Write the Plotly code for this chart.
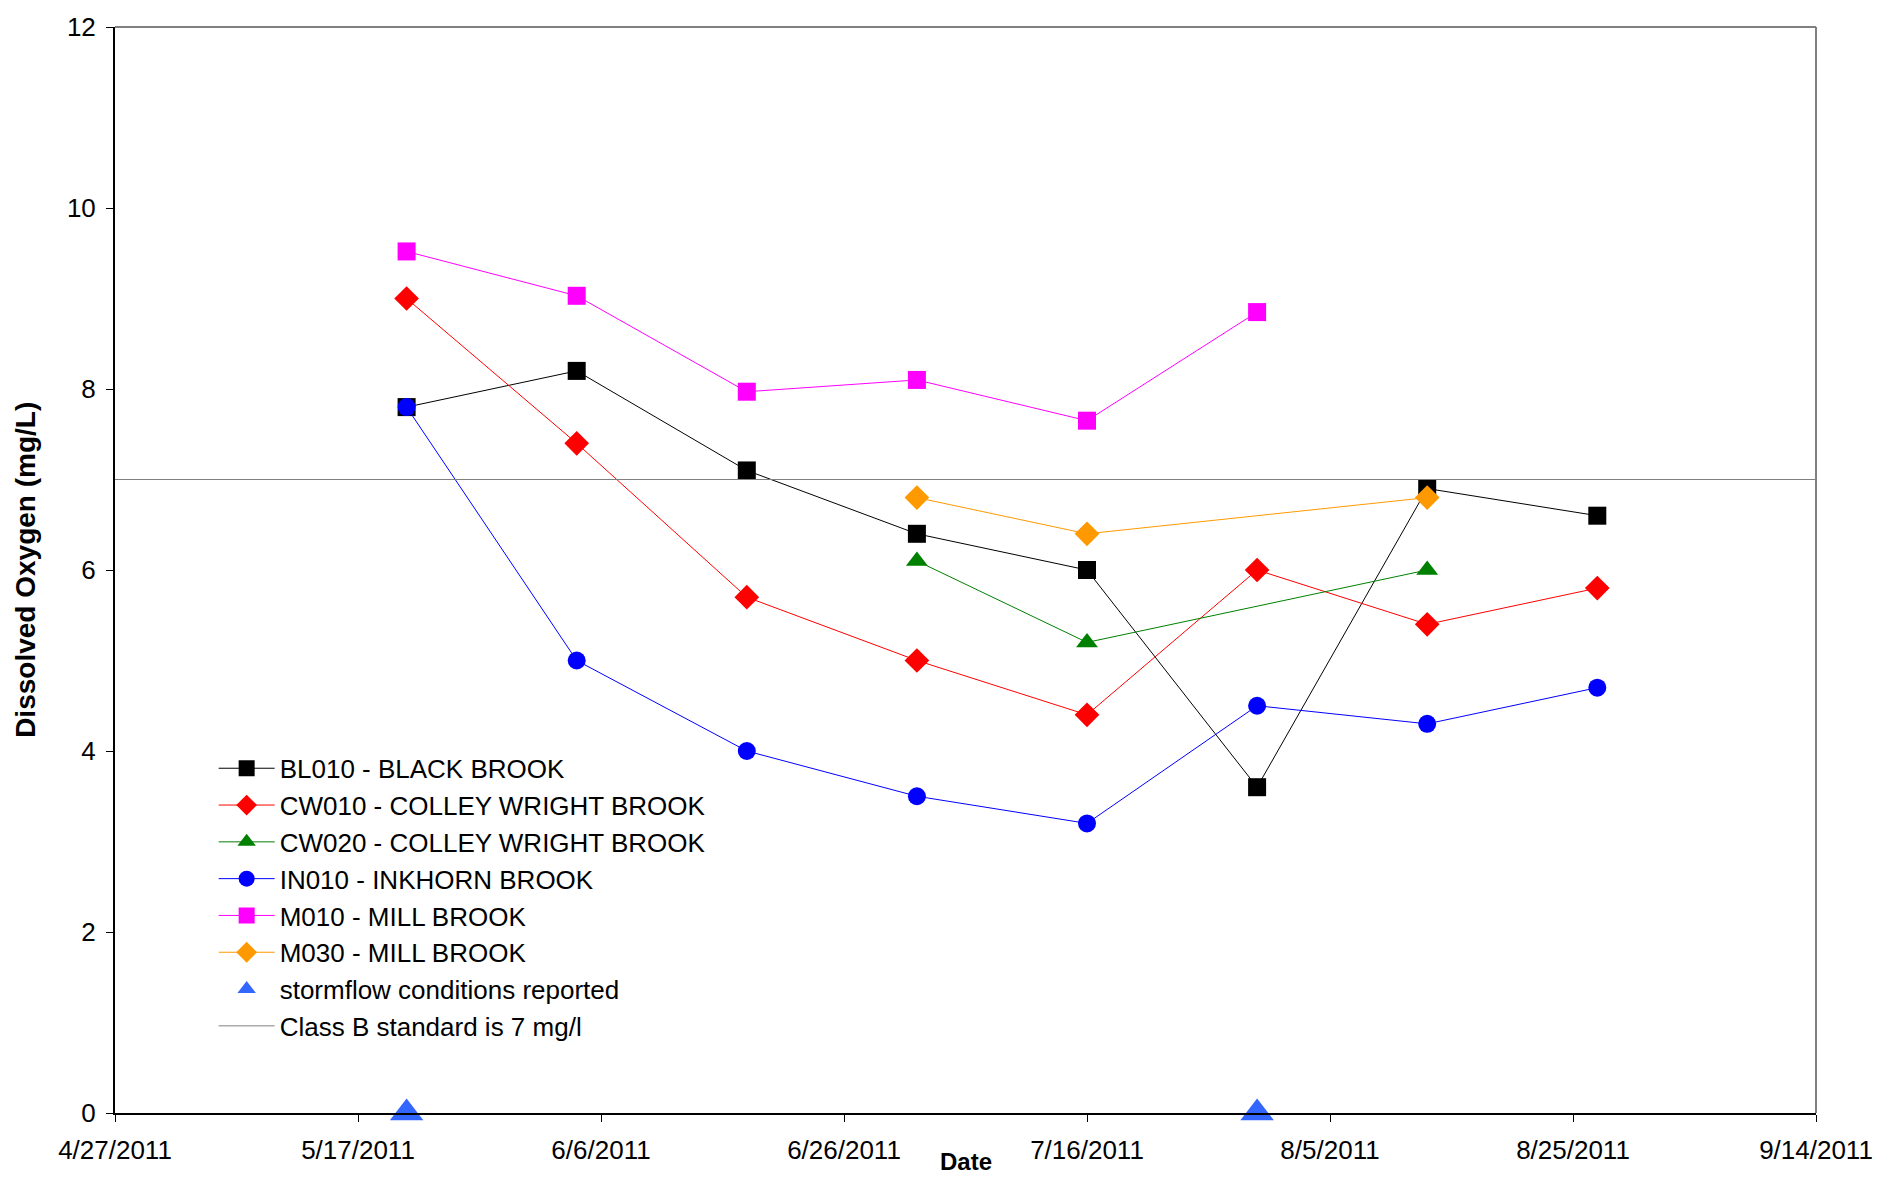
import plotly.graph_objects as go

# Sampling dates (biweekly visits)
dates = ["2011-05-21", "2011-06-04", "2011-06-18", "2011-07-02",
         "2011-07-16", "2011-07-30", "2011-08-13", "2011-08-27"]

# Dissolved oxygen (mg/L) per station; None = not sampled
bl010 = [7.8, 8.2, 7.1, 6.4, 6.0, 3.6, 6.9, 6.6]
cw010 = [9.0, 7.4, 5.7, 5.0, 4.4, 6.0, 5.4, 5.8]
cw020 = [None, None, None, 6.1, 5.2, None, 6.0, None]
in010 = [7.8, 5.0, 4.0, 3.5, 3.2, 4.5, 4.3, 4.7]
m010 = [9.52, 9.03, 7.97, 8.1, 7.65, 8.85, None, None]
m030 = [None, None, None, 6.8, 6.4, None, 6.8, None]

# Days with stormflow conditions
storm_dates = ["2011-05-21", "2011-07-30"]
storm_vals = [0, 0]

# Class B standard
standard_dates = ["2011-04-27", "2011-09-14"]
standard_vals = [7, 7]

y_ticks = [0, 2, 4, 6, 8, 10, 12]

FONT = "Liberation Sans, Arial, sans-serif"

series = [
    ("BL010 - BLACK BROOK", bl010, "#000000", "square", 18),
    ("CW010 - COLLEY WRIGHT BROOK", cw010, "#FF0000", "diamond", 19),
    ("CW020 - COLLEY WRIGHT BROOK", cw020, "#008000", "triangle-up", 19),
    ("IN010 - INKHORN BROOK", in010, "#0000FF", "circle", 18),
    ("M010 - MILL BROOK", m010, "#FF00FF", "square", 18),
    ("M030 - MILL BROOK", m030, "#FF9900", "diamond", 19),
]

fig = go.Figure()

for name, vals, color, sym, size in series:
    fig.add_trace(go.Scatter(
        x=dates, y=vals, name=name, mode="lines+markers",
        connectgaps=True,
        line=dict(color=color, width=1),
        marker=dict(symbol=sym, size=size, color=color),
    ))

fig.add_trace(go.Scatter(
    x=storm_dates, y=storm_vals, name="stormflow conditions reported",
    mode="markers", cliponaxis=False,
    marker=dict(symbol="triangle-up", size=29, color="#3366FF"),
))

fig.add_trace(go.Scatter(
    x=standard_dates, y=standard_vals, name="Class B standard is 7 mg/l",
    mode="lines", line=dict(color="#808080", width=1),
))

# Gray frame on top and right
fig.add_shape(type="line", xref="paper", yref="paper", x0=0, x1=1, y0=1, y1=1,
              line=dict(color="#808080", width=2))
fig.add_shape(type="line", xref="paper", yref="paper", x0=1, x1=1, y0=0, y1=1,
              line=dict(color="#808080", width=2))

fig.add_annotation(text="<b>Date</b>", xref="paper", yref="paper",
                   x=0.5, y=-0.045, yanchor="middle", showarrow=False,
                   font=dict(family=FONT, size=24, color="#000000"))
fig.add_annotation(text="<b>Dissolved Oxygen (mg/L)</b>", xref="paper", yref="paper",
                   x=-0.053, y=0.5, xanchor="center", yanchor="middle",
                   textangle=-90, showarrow=False,
                   font=dict(family=FONT, size=28, color="#000000"))

fig.update_layout(
    width=1898, height=1177,
    margin=dict(l=115, r=82, t=19, b=62),
    paper_bgcolor="white", plot_bgcolor="white",
    font=dict(family=FONT, size=26, color="#000000"),
    showlegend=True,
    legend=dict(x=0.058, y=0.339, xanchor="left", yanchor="top",
                bgcolor="rgba(0,0,0,0)", font=dict(family=FONT, size=26),
                itemwidth=56),
    xaxis=dict(
        type="date",
        range=["2011-04-27", "2011-09-14"],
        tick0="2011-04-27", dtick=20 * 86400000,
        tickformat="%-m/%-d/%Y",
        showgrid=False, zeroline=False,
        showline=True, linecolor="#000000", linewidth=2,
        ticks="outside", ticklen=7, tickcolor="#000000",
        ticklabelstandoff=6,
        tickfont=dict(family=FONT, size=26),
    ),
    yaxis=dict(
        range=[0, 12], tickvals=y_ticks,
        showgrid=False, zeroline=False,
        showline=True, linecolor="#000000", linewidth=2,
        ticks="outside", ticklen=7, tickcolor="#000000",
        ticklabelstandoff=5,
        tickfont=dict(family=FONT, size=26),
    ),
)

fig.write_html("out.html")
